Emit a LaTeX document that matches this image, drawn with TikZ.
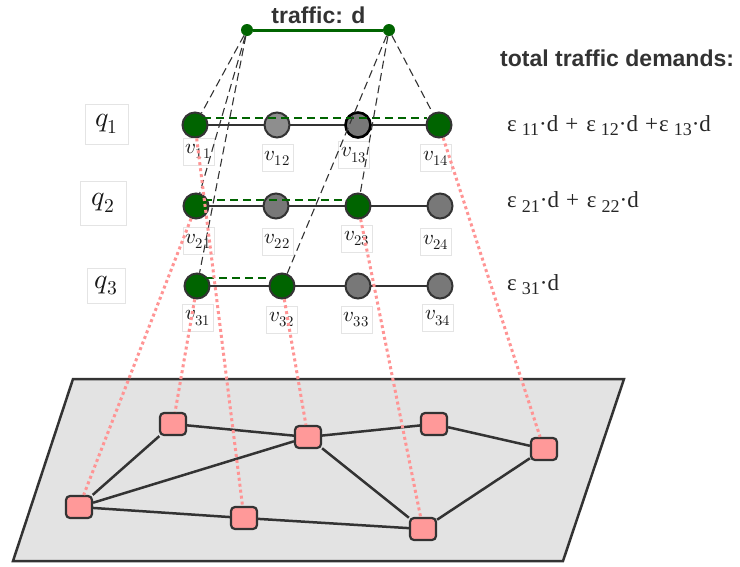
\documentclass[tikz,border=0pt]{standalone}
\usepackage{fontspec}
\usepackage{unicode-math}
\setmathfont{Latin Modern Math}
\newfontfamily\headfont{Liberation Sans}
\newfontfamily\formfont{Liberation Serif}
\usetikzlibrary{calc}

\definecolor{dkgreen}{HTML}{006400}
\definecolor{edgegray}{HTML}{333333}
\definecolor{nodegray}{HTML}{787878}
\definecolor{lightnode}{HTML}{8E8E8E}
\definecolor{pinkfill}{HTML}{FF9999}
\definecolor{pinkline}{HTML}{FF9494}
\definecolor{planefill}{HTML}{E3E3E3}
\definecolor{boxgray}{HTML}{E4E4E4}
\definecolor{textgray}{HTML}{333333}

\pgfdeclarelayer{plane}
\pgfdeclarelayer{links}
\pgfsetlayers{plane,links,main}

% subscripted epsilon term used in the demand formulas
\newcommand\epsterm[1]{ε\hspace{5pt}\raisebox{-4.5pt}{\fontsize{18}{18}\selectfont #1}}

\tikzset{
  vnode/.style={circle, minimum size=25pt, inner sep=0pt, line width=2pt, draw=edgegray},
  vgreen/.style={vnode, fill=dkgreen},
  vgray/.style={vnode, fill=nodegray},
  vlabel/.style={draw=boxgray, fill=white, line width=0.7pt, minimum width=31pt,
    minimum height=27pt, inner sep=0pt, text=black!90, font=\fontsize{21}{24}\selectfont},
  qlabel/.style={draw=boxgray, fill=white, line width=0.7pt, inner sep=0pt,
    text=black!90, font=\fontsize{28}{30}\selectfont},
  sq/.style={rectangle, rounded corners=4pt, minimum width=26pt, minimum height=22pt,
    inner sep=0pt, fill=pinkfill, draw=edgegray, line width=2.2pt},
  dot/.style={circle, fill=dkgreen, minimum size=12pt, inner sep=0pt},
  rowline/.style={draw=edgegray, line width=2.5pt},
  netline/.style={draw=edgegray, line width=2.5pt},
  mapline/.style={draw=pinkline, line width=3pt, dash pattern=on 3pt off 3pt},
  linkdash/.style={draw=edgegray, line width=1.1pt, dash pattern=on 8pt off 4.5pt},
  pathdash/.style={draw=dkgreen, line width=1.2pt, dash pattern=on 8pt off 5pt},
  head/.style={font=\headfont\bfseries\fontsize{23}{26}\selectfont, text=textgray, inner sep=0pt},
  formula/.style={font=\formfont\fontsize{23}{26}\selectfont, text=black!85, inner sep=0pt, anchor=base west},
}

\begin{document}
\begin{tikzpicture}[x=1pt, y=-1pt]
\useasboundingbox (0,0) rectangle (740,566);

% physical network plane
\begin{pgfonlayer}{plane}
\draw[fill=planefill, draw=edgegray, line width=2.5pt, line join=miter]
  (73,379) -- (624,379) -- (563,561) -- (13,561) -- cycle;
\end{pgfonlayer}

% physical nodes
\node[sq] (A) at (79,507) {};
\node[sq] (B) at (173,424) {};
\node[sq] (C) at (244,518) {};
\node[sq] (D) at (308,437) {};
\node[sq] (E) at (434,424) {};
\node[sq] (F) at (544,449) {};
\node[sq] (G) at (423,529) {};

% virtual nodes
\node[vgreen] (v11) at (195,125) {};
\node[vnode, fill=lightnode] (v12) at (277,125) {};
\node[vnode, fill=nodegray, draw=black, line width=2.6pt] (v13) at (358,125) {};
\node[vgreen] (v14) at (439,125) {};
\node[vgreen] (v21) at (196,206) {};
\node[vgray] (v22) at (276,206) {};
\node[vgreen] (v23) at (358,206) {};
\node[vgray] (v24) at (440,206) {};
\node[vgreen] (v31) at (197,286) {};
\node[vgreen] (v32) at (282,286) {};
\node[vgray] (v33) at (358,286) {};
\node[vgray] (v34) at (440,286) {};

\begin{pgfonlayer}{links}
% physical links
\draw[netline] (A) -- (B);
\draw[netline] (A) -- (D);
\draw[netline] (A) -- (C);
\draw[netline] (B) -- (D);
\draw[netline] (D) -- (E);
\draw[netline] (D) -- (G);
\draw[netline] (C) -- (G);
\draw[netline] (E) -- (F);
\draw[netline] (G) -- (F);
% chains of the layers
\draw[rowline] (v11.center) -- (v14.center);
\draw[rowline] (v21.center) -- (v24.center);
\draw[rowline] (v31.center) -- (v34.center);
\end{pgfonlayer}

% node labels
\node[vlabel] (l11) at (198.5,151.5) {$v_{11}$};
\node[vlabel] (l12) at (277.5,158) {$v_{12}$};
\node[vlabel] (l13) at (354,155) {$v_{13}$};
\node[vlabel] (l14) at (436,158) {$v_{14}$};
\node[vlabel] (l21) at (198.5,241) {$v_{21}$};
\node[vlabel] (l22) at (277.5,241.5) {$v_{22}$};
\node[vlabel] (l23) at (357,238.5) {$v_{23}$};
\node[vlabel] (l24) at (436,242) {$v_{24}$};
\node[vlabel] (l31) at (198,318) {$v_{31}$};
\node[vlabel] (l32) at (282,319.5) {$v_{32}$};
\node[vlabel] (l33) at (356.5,319.5) {$v_{33}$};
\node[vlabel] (l34) at (438,318) {$v_{34}$};

% layer labels
\node[qlabel, minimum width=43pt, minimum height=40pt] (q1) at (106.5,124) {$q_1$};
\node[qlabel, minimum width=46pt, minimum height=44pt] (q2) at (103,203) {$q_2$};
\node[qlabel, minimum width=38pt, minimum height=35pt] (q3) at (106,285.5) {$q_3$};

% traffic endpoints
\node[dot] (s) at (247,30) {};
\node[dot] (t) at (389,30) {};
\draw[draw=dkgreen, line width=3pt] (s) -- (t);
\node[head, anchor=base] (traffic) at (318.5,23) {traffic: d};

% traffic split onto the layers
\draw[pathdash] ($(v11)+(8,-7)$) -- ($(v14)+(-12,-7)$);
\draw[pathdash] ($(v21)+(8,-6)$) -- ($(v23)+(-9,-6)$);
\draw[pathdash] ($(v31)+(9,-8)$) -- ($(v32)+(-12,-8)$);

\draw[linkdash] (s) -- (v11);
\draw[linkdash] (s) -- (v21);
\draw[linkdash] (s) -- (v31);
\draw[linkdash] (t) -- (v14);
\draw[linkdash] (t) -- (v23);
\draw[linkdash] (t) -- (v32);

% embedding onto the physical network
\draw[mapline] (v11) -- (C);
\draw[mapline] (v21) -- (A);
\draw[mapline] (v31) -- (B);
\draw[mapline] (v32) -- (D);
\draw[mapline] (v23) -- (G);
\draw[mapline] (v14) -- (F);

% demands
\node[head, anchor=base west] (dem) at (500,66) {total traffic demands:};
\node[formula] (f1) at (507,131) {\epsterm{11}·d\hspace{7pt}+\hspace{8pt}\epsterm{12}·d\hspace{7pt}+\hspace{1pt}\epsterm{13}·d};
\node[formula] (f2) at (507,207.5) {\epsterm{21}·d\hspace{7pt}+\hspace{8pt}\epsterm{22}·d};
\node[formula] (f3) at (507,290) {\epsterm{31}·d};
\end{tikzpicture}
\end{document}
